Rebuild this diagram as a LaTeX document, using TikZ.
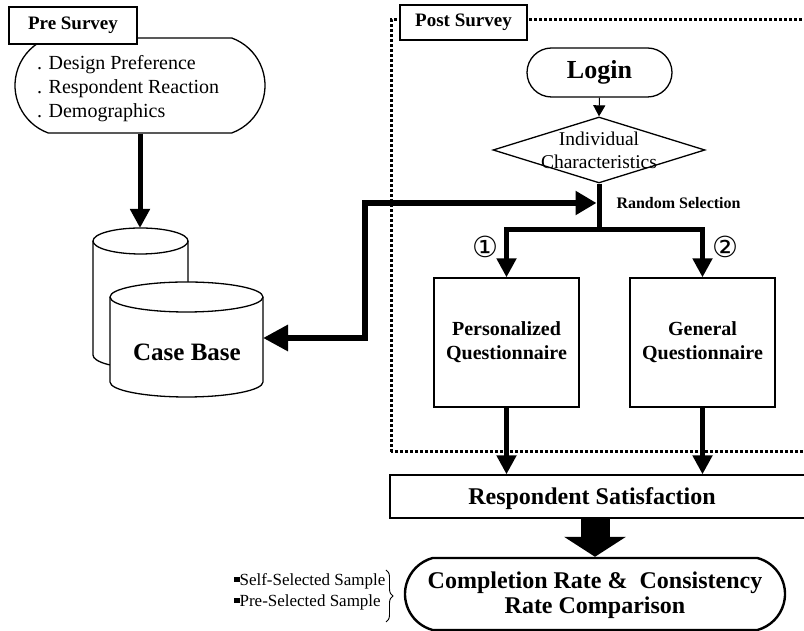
\documentclass[tikz,border=0pt]{standalone}
\usepackage{fontspec}
\setmainfont{Liberation Serif}
\newfontfamily\symfont{DejaVu Sans}
\usetikzlibrary{shapes.geometric,shapes.misc,arrows.meta,decorations.pathreplacing,calc}
% zero-size centred text: #1 raise, #2 horizontal shift, #3 content
\newcommand{\zc}[3]{\raisebox{#1}[0pt][0pt]{\makebox[0pt]{\hspace*{#2}#3\hspace*{-#2}}}}
% zero-size left-aligned text starting #2 from centre
\newcommand{\zl}[3]{\raisebox{#1}[0pt][0pt]{\makebox[0pt][l]{\hspace*{#2}#3}}}
\begin{document}
\begin{tikzpicture}[x=1pt,y=1pt,
  box/.style={draw, line width=1.3pt, fill=white, inner sep=0pt},
  tagbox/.style={box, font=\bfseries\fontsize{19}{22}\selectfont},
  pillbox/.style={box, rounded rectangle},
  thickarrow/.style={line width=5pt, -{Triangle[width=19pt,length=19pt]}},
  cyl/.style={fill=white, draw, line width=1.3pt},
  circnum/.style={font=\symfont\fontsize{29}{29}\selectfont, inner sep=0pt}
]
\useasboundingbox (0,0) rectangle (804,631);
\fill[white] (0,0) rectangle (804,631);

% ---------- Post survey frame ----------
\draw[line width=3pt, dash pattern=on 3pt off 2pt] (391,179) rectangle (840,611);

% ---------- Pre survey ----------
\node[pillbox, rounded rectangle arc length=140, minimum width=250pt, minimum height=95pt,
      font=\fontsize{20}{24}\selectfont] (pre) at (140,545.5)
  {\zl{-8pt}{-103pt}{\begin{tabular}{@{}l@{}}. Design Preference\\. Respondent Reaction\\. Demographics\end{tabular}}};
\node[tagbox, minimum width=128pt, minimum height=37pt] (pretag) at (73,605.5) {Pre Survey};

% ---------- Case base cylinders ----------
\filldraw[cyl] (93,390) -- (93,276) arc[start angle=180,end angle=360,x radius=47.5,y radius=13]
  -- (188,390) arc[start angle=0,end angle=180,x radius=47.5,y radius=13] -- cycle;
\draw[line width=1.3pt] (93,390) arc[start angle=180,end angle=360,x radius=47.5,y radius=13];
\filldraw[cyl] (110,334) -- (110,249) arc[start angle=180,end angle=360,x radius=76.5,y radius=15]
  -- (263,334) arc[start angle=0,end angle=180,x radius=76.5,y radius=15] -- cycle;
\draw[line width=1.3pt] (110,334) arc[start angle=180,end angle=360,x radius=76.5,y radius=15];
\node[font=\bfseries\fontsize{25}{28}\selectfont] (cb) at (187,279) {Case Base};
\coordinate (cbt) at (140,403);
\coordinate (cbr) at (263,293);

\draw[thickarrow] (pre.south) -- (cbt);

% ---------- Post survey ----------
\node[tagbox, minimum width=127pt, minimum height=35pt] (posttag) at (463.5,608.5) {Post Survey};
\node[pillbox, minimum width=145pt, minimum height=49pt,
      font=\bfseries\fontsize{26}{30}\selectfont] (login) at (599.5,558.5) {Login};
\node[box, diamond, minimum width=212pt, minimum height=66pt,
      font=\fontsize{19.5}{23}\selectfont] (dia) at (599,481)
  {\zc{-8pt}{0pt}{\begin{tabular}{@{}c@{}}Individual\\Characteristics\end{tabular}}};
\draw[line width=1pt, -{Triangle[width=12pt,length=11pt]}] (login.south) -- (dia.north);

\node[anchor=west, font=\bfseries\fontsize{16}{18}\selectfont] (rsel) at (613,428) {Random Selection};

\node[box, minimum width=145pt, minimum height=129pt, align=center,
      font=\bfseries\fontsize{20}{24}\selectfont] (pq) at (506.5,288.5) {Personalized\\Questionnaire};
\node[box, minimum width=145pt, minimum height=129pt, align=center,
      font=\bfseries\fontsize{20}{24}\selectfont] (gq) at (702.5,288.5) {General\\Questionnaire};

\coordinate (jn) at (599,401);
\draw[line width=5pt] (dia.south) -- (jn);
\draw[thickarrow] (jn) -| (pq.north);
\draw[thickarrow] (jn) -| (gq.north);

\node[circnum] (n1) at (485,384) {①};
\node[circnum] (n2) at (725,384) {②};

\coordinate (knee) at (365,428);
\coordinate (rtip) at (596.5,428);
\draw[line width=6pt, {Triangle[width=25pt,length=25pt]}-{Triangle[width=23pt,length=21pt]}]
  (cbr) -| (knee) -- (rtip);

% ---------- Results ----------
\node[box, minimum width=420pt, minimum height=43pt,
      font=\bfseries\fontsize{24}{28}\selectfont] (rs) at (600,134.5)
  {\zc{-8pt}{-8pt}{Respondent Satisfaction}};
\draw[thickarrow] (pq.south) -- (pq.south |- rs.north);
\draw[thickarrow] (gq.south) -- (gq.south |- rs.north);

\node[box, rounded rectangle, rounded rectangle arc length=150, line width=2.4pt,
      minimum width=380pt, minimum height=72pt,
      font=\bfseries\fontsize{24}{25}\selectfont] (cmp) at (595,37)
  {\zc{-8pt}{0pt}{\begin{tabular}{@{}c@{}}Completion Rate \&\ \ Consistency\\Rate Comparison\end{tabular}}};
\draw[line width=29pt, -{Triangle[width=61pt,length=20pt]}] (rs.south -| cmp.north) -- (cmp.north);

\node[anchor=east, align=left, font=\fontsize{17}{21}\selectfont] (samp) at (389,39.5)
  {\rule[0.18em]{0.3em}{0.3em}Self-Selected Sample\\\rule[0.18em]{0.3em}{0.3em}Pre-Selected Sample};
\coordinate (bt) at (386,61);
\coordinate (bb) at (386,9);
\draw[line width=0.9pt, decorate, decoration={brace, amplitude=7pt}] (bt) -- (bb);
\end{tikzpicture}
\end{document}
